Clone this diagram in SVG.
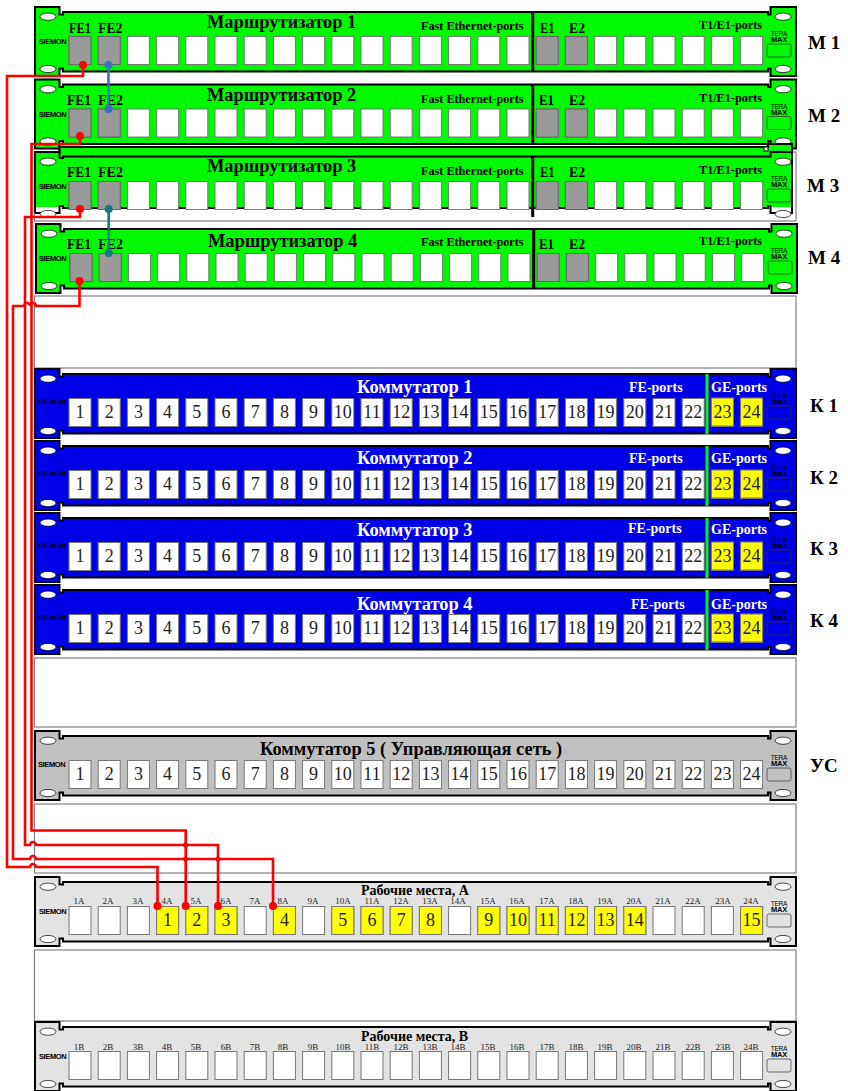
<svg xmlns="http://www.w3.org/2000/svg" width="848" height="1091" viewBox="0 0 848 1091">
<style>
text{font-family:"Liberation Serif","Times New Roman",serif;fill:#000}
.s{font-family:"Liberation Sans",Arial,sans-serif;font-size:7.5px;font-weight:bold;letter-spacing:-.4px}
.tera{font-family:"Liberation Sans",Arial,sans-serif;font-size:6.5px;letter-spacing:-.2px;text-anchor:middle}
.max{font-family:"Liberation Sans",Arial,sans-serif;font-size:7.5px;font-weight:bold;letter-spacing:-.2px;text-anchor:middle}
.t{font-size:18.4px;font-weight:bold}
.w{fill:#fff}
.fe{font-size:15.500px;font-weight:bold}
.pl{font-size:12.200px;font-weight:bold}
.pw{font-size:14px;font-weight:bold;fill:#fff}
.side{font-size:19px;font-weight:bold}
.rm{font-size:14px;font-weight:bold}
.n{font-size:18px;text-anchor:middle;fill:#222}
.a{font-size:9px;text-anchor:middle;fill:#222}
.b{stroke:#000;stroke-width:2}
.g{fill:#00f800}
.blue{fill:#0000e6}
.gr{fill:#c0c0c0}
.lt{fill:#e3e3e3}
.blank{fill:#fff;stroke:#808080;stroke-width:1.2}
.port{fill:#fff;stroke:#777;stroke-width:1}
.grey{fill:#999;stroke:#666;stroke-width:1}
.yel{fill:#ffff00;stroke:#777;stroke-width:1}
.ov{fill:#fff;stroke:#000;stroke-width:.7}
.tm{fill:none;stroke:#333;stroke-width:.7}
.red{fill:none;stroke:#ff0000;stroke-width:2.600}
.rd{fill:#ff0000}
.ln{fill:none;stroke:#000;stroke-width:2}
</style>
<defs>
<path id="shape" d="M0,0H24.500V7.500H28V5H733V7.500H735.500V0H761V69H735.500V61.500H733V64.500H28V61.500H24.500V69H0Z"/>
<g id="deco">
<ellipse class="ov" cx="13" cy="9.700" rx="8" ry="3.600"/>
<ellipse class="ov" cx="13" cy="62" rx="8" ry="3.600"/>
<ellipse class="ov" cx="748" cy="9.700" rx="8" ry="3.600"/>
<ellipse class="ov" cx="748" cy="62" rx="8" ry="3.600"/>
<rect class="tm" x="732" y="37" width="24" height="13" rx="2"/>
</g>
<g id="row">
<rect class="port" x="34" y="29.500" width="22" height="28"/><rect class="port" x="63.200" y="29.500" width="22" height="28"/><rect class="port" x="92.400" y="29.500" width="22" height="28"/><rect class="port" x="121.600" y="29.500" width="22" height="28"/><rect class="port" x="150.800" y="29.500" width="22" height="28"/><rect class="port" x="180" y="29.500" width="22" height="28"/><rect class="port" x="209.200" y="29.500" width="22" height="28"/><rect class="port" x="238.400" y="29.500" width="22" height="28"/><rect class="port" x="267.600" y="29.500" width="22" height="28"/><rect class="port" x="296.800" y="29.500" width="22" height="28"/><rect class="port" x="326" y="29.500" width="22" height="28"/><rect class="port" x="355.200" y="29.500" width="22" height="28"/><rect class="port" x="384.400" y="29.500" width="22" height="28"/><rect class="port" x="413.600" y="29.500" width="22" height="28"/><rect class="port" x="442.800" y="29.500" width="22" height="28"/><rect class="port" x="472" y="29.500" width="22" height="28"/><rect class="port" x="501.200" y="29.500" width="22" height="28"/><rect class="port" x="530.400" y="29.500" width="22" height="28"/><rect class="port" x="559.600" y="29.500" width="22" height="28"/><rect class="port" x="588.800" y="29.500" width="22" height="28"/><rect class="port" x="618" y="29.500" width="22" height="28"/><rect class="port" x="647.200" y="29.500" width="22" height="28"/><rect class="port" x="676.400" y="29.500" width="22" height="28"/><rect class="port" x="705.600" y="29.500" width="22" height="28"/>
</g>
<g id="mgrey">
<rect class="grey" x="34" y="29.500" width="22" height="28"/><rect class="grey" x="63.200" y="29.500" width="22" height="28"/><rect class="grey" x="501.200" y="29.500" width="22" height="28"/><rect class="grey" x="530.400" y="29.500" width="22" height="28"/>
<rect x="496.200" y="5" width="3" height="60"/>
</g>
</defs>

<rect class="blank" x="34.500" y="152" width="761.500" height="69"/>
<rect class="blank" x="34.500" y="296" width="761.500" height="72"/>
<rect class="blank" x="34.500" y="658" width="761.500" height="69"/>
<rect class="blank" x="34.500" y="804" width="761.500" height="69"/>
<rect class="blank" x="34.500" y="950" width="761.500" height="71"/>

<g id="m1" transform="translate(35,7)">
<use href="#shape" class="b g"/><use href="#deco"/><use href="#row"/><use href="#mgrey"/>
<text class="s" x="4" y="37">SIEMON</text>
<text class="tera" x="744" y="29">TERA</text><text class="max" x="744" y="35">MAX</text>
<text class="t" x="172" y="21">Маршрутизатор 1</text>
<text class="pl" x="386" y="23">Fast Ethernet-ports</text>
<text class="pl" x="664" y="22">T1/E1-ports</text>
<text class="fe" x="34" y="26" textLength="22" lengthAdjust="spacingAndGlyphs">FE1</text><text class="fe" x="63" y="26" textLength="24.500" lengthAdjust="spacingAndGlyphs">FE2</text>
<text class="fe" x="505" y="26" textLength="14.500" lengthAdjust="spacingAndGlyphs">E1</text><text class="fe" x="534" y="26" textLength="16" lengthAdjust="spacingAndGlyphs">E2</text>
</g>
<g id="m2" transform="translate(35,79.500)">
<use href="#shape" class="b g"/><use href="#deco"/><use href="#row"/><use href="#mgrey"/>
<text class="s" x="4" y="37">SIEMON</text>
<text class="tera" x="744" y="29">TERA</text><text class="max" x="744" y="35">MAX</text>
<text class="t" x="172" y="21.500">Маршрутизатор 2</text>
<text class="pl" x="386" y="23">Fast Ethernet-ports</text>
<text class="pl" x="664" y="22">T1/E1-ports</text>
<text class="fe" x="32" y="25.500" textLength="24" lengthAdjust="spacingAndGlyphs">FE1</text><text class="fe" x="63" y="25.500" textLength="25" lengthAdjust="spacingAndGlyphs">FE2</text>
<text class="fe" x="504" y="25.500" textLength="15" lengthAdjust="spacingAndGlyphs">E1</text><text class="fe" x="534" y="25.500" textLength="16" lengthAdjust="spacingAndGlyphs">E2</text>
</g>
<g id="m3" transform="translate(35,152)">
<path class="g" d="M0,0H24.500V-5H733V-8H757V55H0Z"/>
<path class="ln" d="M0,61V0H24.500V-5H733V-8H757V61H735.500V54H733V56H28V54H24.500V61H0"/>
<path class="ln" d="M24.500,-5V6H28V4.500H735.500V0H757"/>
<rect x="729" y="-5" width="4" height="4" fill="#fff" stroke="#000"/>
<use href="#deco"/><use href="#row"/><use href="#mgrey"/>
<text class="s" x="4" y="37">SIEMON</text>
<text class="tera" x="744" y="29">TERA</text><text class="max" x="744" y="35">MAX</text>
<text class="t" x="172" y="20">Маршрутизатор 3</text>
<text class="pl" x="386" y="23">Fast Ethernet-ports</text>
<text class="pl" x="664" y="22">T1/E1-ports</text>
<text class="fe" x="32" y="25" textLength="24" lengthAdjust="spacingAndGlyphs">FE1</text><text class="fe" x="63" y="25" textLength="25" lengthAdjust="spacingAndGlyphs">FE2</text>
<text class="fe" x="505" y="25" textLength="14.500" lengthAdjust="spacingAndGlyphs">E1</text><text class="fe" x="534" y="25" textLength="16" lengthAdjust="spacingAndGlyphs">E2</text>
</g>
<g id="m4" transform="translate(36,224)">
<use href="#shape" class="b g"/><use href="#deco"/><use href="#row"/><use href="#mgrey"/>
<text class="s" x="3" y="37">SIEMON</text>
<text class="tera" x="743" y="29">TERA</text><text class="max" x="743" y="35">MAX</text>
<text class="t" x="172" y="23">Маршрутизатор 4</text>
<text class="pl" x="385" y="22">Fast Ethernet-ports</text>
<text class="pl" x="663" y="21">T1/E1-ports</text>
<text class="fe" x="31" y="25" textLength="24" lengthAdjust="spacingAndGlyphs">FE1</text><text class="fe" x="62" y="25" textLength="25" lengthAdjust="spacingAndGlyphs">FE2</text>
<text class="fe" x="503" y="25" textLength="15" lengthAdjust="spacingAndGlyphs">E1</text><text class="fe" x="533" y="25" textLength="16" lengthAdjust="spacingAndGlyphs">E2</text>
</g>

<g id="k1" transform="translate(35,369)">
<use href="#shape" class="b blue"/><use href="#deco"/><use href="#row"/>
<rect class="yel" x="676.400" y="29" width="22" height="28"/><rect class="yel" x="705.600" y="29" width="22" height="28"/>
<rect class="g" x="670.500" y="5" width="3" height="60"/>
<text class="s" x="3" y="35">SIEMON</text>
<text class="tera" x="744" y="29">TERA</text><text class="max" x="744" y="35">MAX</text>
<text class="t w" x="322" y="24">Коммутатор 1</text>
<text class="pw" x="594" y="23">FE-ports</text><text class="pw" x="676" y="23">GE-ports</text>
<text class="n" x="45" y="48.500">1</text><text class="n" x="74.200" y="48.500">2</text><text class="n" x="103.400" y="48.500">3</text><text class="n" x="132.600" y="48.500">4</text><text class="n" x="161.800" y="48.500">5</text><text class="n" x="191" y="48.500">6</text><text class="n" x="220.200" y="48.500">7</text><text class="n" x="249.400" y="48.500">8</text><text class="n" x="278.600" y="48.500">9</text><text class="n" x="307.800" y="48.500">10</text><text class="n" x="337" y="48.500">11</text><text class="n" x="366.200" y="48.500">12</text><text class="n" x="395.400" y="48.500">13</text><text class="n" x="424.600" y="48.500">14</text><text class="n" x="453.800" y="48.500">15</text><text class="n" x="483" y="48.500">16</text><text class="n" x="512.200" y="48.500">17</text><text class="n" x="541.400" y="48.500">18</text><text class="n" x="570.600" y="48.500">19</text><text class="n" x="599.800" y="48.500">20</text><text class="n" x="629" y="48.500">21</text><text class="n" x="658.200" y="48.500">22</text><text class="n" x="687.400" y="48.500">23</text><text class="n" x="716.600" y="48.500">24</text>
</g>
<g id="k2" transform="translate(35,441)">
<use href="#shape" class="b blue"/><use href="#deco"/><use href="#row"/>
<rect class="yel" x="676.400" y="29" width="22" height="28"/><rect class="yel" x="705.600" y="29" width="22" height="28"/>
<rect class="g" x="670.500" y="5" width="3" height="60"/>
<text class="s" x="3" y="35">SIEMON</text>
<text class="tera" x="744" y="29">TERA</text><text class="max" x="744" y="35">MAX</text>
<text class="t w" x="322" y="23">Коммутатор 2</text>
<text class="pw" x="594" y="22">FE-ports</text><text class="pw" x="676" y="22">GE-ports</text>
<text class="n" x="45" y="48.500">1</text><text class="n" x="74.200" y="48.500">2</text><text class="n" x="103.400" y="48.500">3</text><text class="n" x="132.600" y="48.500">4</text><text class="n" x="161.800" y="48.500">5</text><text class="n" x="191" y="48.500">6</text><text class="n" x="220.200" y="48.500">7</text><text class="n" x="249.400" y="48.500">8</text><text class="n" x="278.600" y="48.500">9</text><text class="n" x="307.800" y="48.500">10</text><text class="n" x="337" y="48.500">11</text><text class="n" x="366.200" y="48.500">12</text><text class="n" x="395.400" y="48.500">13</text><text class="n" x="424.600" y="48.500">14</text><text class="n" x="453.800" y="48.500">15</text><text class="n" x="483" y="48.500">16</text><text class="n" x="512.200" y="48.500">17</text><text class="n" x="541.400" y="48.500">18</text><text class="n" x="570.600" y="48.500">19</text><text class="n" x="599.800" y="48.500">20</text><text class="n" x="629" y="48.500">21</text><text class="n" x="658.200" y="48.500">22</text><text class="n" x="687.400" y="48.500">23</text><text class="n" x="716.600" y="48.500">24</text>
</g>
<g id="k3" transform="translate(35,513)">
<use href="#shape" class="b blue"/><use href="#deco"/><use href="#row"/>
<rect class="yel" x="676.400" y="29" width="22" height="28"/><rect class="yel" x="705.600" y="29" width="22" height="28"/>
<rect class="g" x="670.500" y="5" width="3" height="60"/>
<text class="s" x="3" y="35">SIEMON</text>
<text class="tera" x="744" y="29">TERA</text><text class="max" x="744" y="35">MAX</text>
<text class="t w" x="322" y="23">Коммутатор 3</text>
<text class="pw" x="593" y="20">FE-ports</text><text class="pw" x="676" y="21">GE-ports</text>
<text class="n" x="45" y="48.500">1</text><text class="n" x="74.200" y="48.500">2</text><text class="n" x="103.400" y="48.500">3</text><text class="n" x="132.600" y="48.500">4</text><text class="n" x="161.800" y="48.500">5</text><text class="n" x="191" y="48.500">6</text><text class="n" x="220.200" y="48.500">7</text><text class="n" x="249.400" y="48.500">8</text><text class="n" x="278.600" y="48.500">9</text><text class="n" x="307.800" y="48.500">10</text><text class="n" x="337" y="48.500">11</text><text class="n" x="366.200" y="48.500">12</text><text class="n" x="395.400" y="48.500">13</text><text class="n" x="424.600" y="48.500">14</text><text class="n" x="453.800" y="48.500">15</text><text class="n" x="483" y="48.500">16</text><text class="n" x="512.200" y="48.500">17</text><text class="n" x="541.400" y="48.500">18</text><text class="n" x="570.600" y="48.500">19</text><text class="n" x="599.800" y="48.500">20</text><text class="n" x="629" y="48.500">21</text><text class="n" x="658.200" y="48.500">22</text><text class="n" x="687.400" y="48.500">23</text><text class="n" x="716.600" y="48.500">24</text>
</g>
<g id="k4" transform="translate(35,585)">
<use href="#shape" class="b blue"/><use href="#deco"/><use href="#row"/>
<rect class="yel" x="676.400" y="29" width="22" height="28"/><rect class="yel" x="705.600" y="29" width="22" height="28"/>
<rect class="g" x="670.500" y="5" width="3" height="60"/>
<text class="s" x="3" y="35">SIEMON</text>
<text class="tera" x="744" y="29">TERA</text><text class="max" x="744" y="35">MAX</text>
<text class="t w" x="322" y="25">Коммутатор 4</text>
<text class="pw" x="596" y="24">FE-ports</text><text class="pw" x="676" y="24">GE-ports</text>
<text class="n" x="45" y="48.500">1</text><text class="n" x="74.200" y="48.500">2</text><text class="n" x="103.400" y="48.500">3</text><text class="n" x="132.600" y="48.500">4</text><text class="n" x="161.800" y="48.500">5</text><text class="n" x="191" y="48.500">6</text><text class="n" x="220.200" y="48.500">7</text><text class="n" x="249.400" y="48.500">8</text><text class="n" x="278.600" y="48.500">9</text><text class="n" x="307.800" y="48.500">10</text><text class="n" x="337" y="48.500">11</text><text class="n" x="366.200" y="48.500">12</text><text class="n" x="395.400" y="48.500">13</text><text class="n" x="424.600" y="48.500">14</text><text class="n" x="453.800" y="48.500">15</text><text class="n" x="483" y="48.500">16</text><text class="n" x="512.200" y="48.500">17</text><text class="n" x="541.400" y="48.500">18</text><text class="n" x="570.600" y="48.500">19</text><text class="n" x="599.800" y="48.500">20</text><text class="n" x="629" y="48.500">21</text><text class="n" x="658.200" y="48.500">22</text><text class="n" x="687.400" y="48.500">23</text><text class="n" x="716.600" y="48.500">24</text>
</g>
<g id="k5" transform="translate(35,731)">
<use href="#shape" class="b gr"/><use href="#deco"/><use href="#row"/>
<text class="s" x="3" y="36">SIEMON</text>
<text class="tera" x="744" y="29">TERA</text><text class="max" x="744" y="35">MAX</text>
<text class="t" x="225" y="24">Коммутатор 5 ( Управляющая сеть )</text>
<text class="n" x="45" y="48.500">1</text><text class="n" x="74.200" y="48.500">2</text><text class="n" x="103.400" y="48.500">3</text><text class="n" x="132.600" y="48.500">4</text><text class="n" x="161.800" y="48.500">5</text><text class="n" x="191" y="48.500">6</text><text class="n" x="220.200" y="48.500">7</text><text class="n" x="249.400" y="48.500">8</text><text class="n" x="278.600" y="48.500">9</text><text class="n" x="307.800" y="48.500">10</text><text class="n" x="337" y="48.500">11</text><text class="n" x="366.200" y="48.500">12</text><text class="n" x="395.400" y="48.500">13</text><text class="n" x="424.600" y="48.500">14</text><text class="n" x="453.800" y="48.500">15</text><text class="n" x="483" y="48.500">16</text><text class="n" x="512.200" y="48.500">17</text><text class="n" x="541.400" y="48.500">18</text><text class="n" x="570.600" y="48.500">19</text><text class="n" x="599.800" y="48.500">20</text><text class="n" x="629" y="48.500">21</text><text class="n" x="658.200" y="48.500">22</text><text class="n" x="687.400" y="48.500">23</text><text class="n" x="716.600" y="48.500">24</text>
</g>
<g id="ra" transform="translate(35,877)">
<use href="#shape" class="b lt"/><use href="#deco"/><use href="#row"/>
<rect class="yel" x="121.600" y="29.500" width="22" height="28"/><rect class="yel" x="150.800" y="29.500" width="22" height="28"/><rect class="yel" x="180" y="29.500" width="22" height="28"/><rect class="yel" x="238.400" y="29.500" width="22" height="28"/><rect class="yel" x="296.800" y="29.500" width="22" height="28"/><rect class="yel" x="326" y="29.500" width="22" height="28"/><rect class="yel" x="355.200" y="29.500" width="22" height="28"/><rect class="yel" x="384.400" y="29.500" width="22" height="28"/><rect class="yel" x="442.800" y="29.500" width="22" height="28"/><rect class="yel" x="472" y="29.500" width="22" height="28"/><rect class="yel" x="501.200" y="29.500" width="22" height="28"/><rect class="yel" x="530.400" y="29.500" width="22" height="28"/><rect class="yel" x="559.600" y="29.500" width="22" height="28"/><rect class="yel" x="588.800" y="29.500" width="22" height="28"/><rect class="yel" x="705.600" y="29.500" width="22" height="28"/>
<text class="s" x="4" y="37">SIEMON</text>
<text class="tera" x="744" y="29">TERA</text><text class="max" x="744" y="35">MAX</text>
<text class="rm" x="326" y="18">Рабочие места, А</text>
<text class="a" x="44" y="27">1A</text><text class="a" x="73" y="27">2A</text><text class="a" x="103" y="27">3A</text><text class="a" x="132" y="27">4A</text><text class="a" x="161" y="27">5A</text><text class="a" x="191" y="27">6A</text><text class="a" x="220" y="27">7A</text><text class="a" x="248" y="27">8A</text><text class="a" x="278" y="27">9A</text><text class="a" x="308" y="27">10A</text><text class="a" x="337" y="27">11A</text><text class="a" x="366" y="27">12A</text><text class="a" x="395" y="27">13A</text><text class="a" x="423" y="27">14A</text><text class="a" x="453" y="27">15A</text><text class="a" x="482" y="27">16A</text><text class="a" x="512" y="27">17A</text><text class="a" x="541" y="27">18A</text><text class="a" x="570" y="27">19A</text><text class="a" x="599" y="27">20A</text><text class="a" x="628" y="27">21A</text><text class="a" x="658" y="27">22A</text><text class="a" x="688" y="27">23A</text><text class="a" x="716" y="27">24A</text>
<text class="n" x="132.600" y="48.500">1</text><text class="n" x="161.800" y="48.500">2</text><text class="n" x="191" y="48.500">3</text><text class="n" x="249.400" y="48.500">4</text><text class="n" x="307.800" y="48.500">5</text><text class="n" x="337" y="48.500">6</text><text class="n" x="366.200" y="48.500">7</text><text class="n" x="395.400" y="48.500">8</text><text class="n" x="453.800" y="48.500">9</text><text class="n" x="483" y="48.500">10</text><text class="n" x="512.200" y="48.500">11</text><text class="n" x="541.400" y="48.500">12</text><text class="n" x="570.600" y="48.500">13</text><text class="n" x="599.800" y="48.500">14</text><text class="n" x="716.600" y="48.500">15</text>
</g>
<g id="rb" transform="translate(35,1022)">
<use href="#shape" class="b lt"/><use href="#deco"/><use href="#row"/>
<text class="s" x="4" y="37">SIEMON</text>
<text class="tera" x="744" y="29">TERA</text><text class="max" x="744" y="35">MAX</text>
<text class="rm" x="326" y="19">Рабочие места, В</text>
<text class="a" x="44" y="28">1B</text><text class="a" x="73" y="28">2B</text><text class="a" x="103" y="28">3B</text><text class="a" x="132" y="28">4B</text><text class="a" x="161" y="28">5B</text><text class="a" x="191" y="28">6B</text><text class="a" x="220" y="28">7B</text><text class="a" x="248" y="28">8B</text><text class="a" x="278" y="28">9B</text><text class="a" x="308" y="28">10B</text><text class="a" x="337" y="28">11B</text><text class="a" x="366" y="28">12B</text><text class="a" x="395" y="28">13B</text><text class="a" x="423" y="28">14B</text><text class="a" x="453" y="28">15B</text><text class="a" x="482" y="28">16B</text><text class="a" x="512" y="28">17B</text><text class="a" x="541" y="28">18B</text><text class="a" x="570" y="28">19B</text><text class="a" x="599" y="28">20B</text><text class="a" x="628" y="28">21B</text><text class="a" x="658" y="28">22B</text><text class="a" x="688" y="28">23B</text><text class="a" x="716" y="28">24B</text>
</g>

<g id="side-labels">
<text class="side" x="808" y="49">М 1</text>
<text class="side" x="808" y="121.500">М 2</text>
<text class="side" x="807" y="191.500">М 3</text>
<text class="side" x="808" y="264">М 4</text>
<text class="side" x="810" y="412">К 1</text>
<text class="side" x="810" y="484">К 2</text>
<text class="side" x="810" y="555">К 3</text>
<text class="side" x="810" y="627">К 4</text>
<text class="side" x="810" y="771.500">УС</text>
</g>

<g id="connectors">
<path class="red" d="M83,65V76H7V867H30a3,3 0 0 1 6,0H157.500V906"/>
<path class="red" d="M80,136V144H31.500V830.500H185.700V906"/>
<path class="red" d="M80,209V217H25V845H30a3,3 0 0 1 6,0H218V906"/>
<path class="red" d="M79.500,281V306H36a3,3 0 0 0 -6,0a3,3 0 0 0 -6,0H13V859H30a3,3 0 0 1 6,0H273V906"/>
<path d="M108.500,65V109" stroke="#3a70c8" stroke-width="2.600" fill="none"/>
<path d="M108.700,209V253" stroke="#117a85" stroke-width="2.600" fill="none"/>
<circle class="rd" cx="83" cy="65" r="4"/><circle class="rd" cx="80" cy="136" r="4"/><circle class="rd" cx="80" cy="209" r="4"/><circle class="rd" cx="79.500" cy="281" r="4"/>
<circle class="rd" cx="157.500" cy="906" r="4"/><circle class="rd" cx="185.700" cy="906" r="4"/><circle class="rd" cx="218" cy="906" r="4"/><circle class="rd" cx="273" cy="906" r="4"/>
<circle class="rd" cx="185.700" cy="845" r="2.600"/><circle class="rd" cx="185.700" cy="859" r="2.600"/><circle class="rd" cx="218" cy="859" r="2.600"/>
<circle cx="108.500" cy="65" r="4" fill="#3a70c8"/><circle cx="108.500" cy="109" r="4" fill="#3a70c8"/>
<circle cx="108.700" cy="209" r="4" fill="#117a85"/><circle cx="108.700" cy="253" r="4" fill="#117a85"/>
</g>
</svg>
